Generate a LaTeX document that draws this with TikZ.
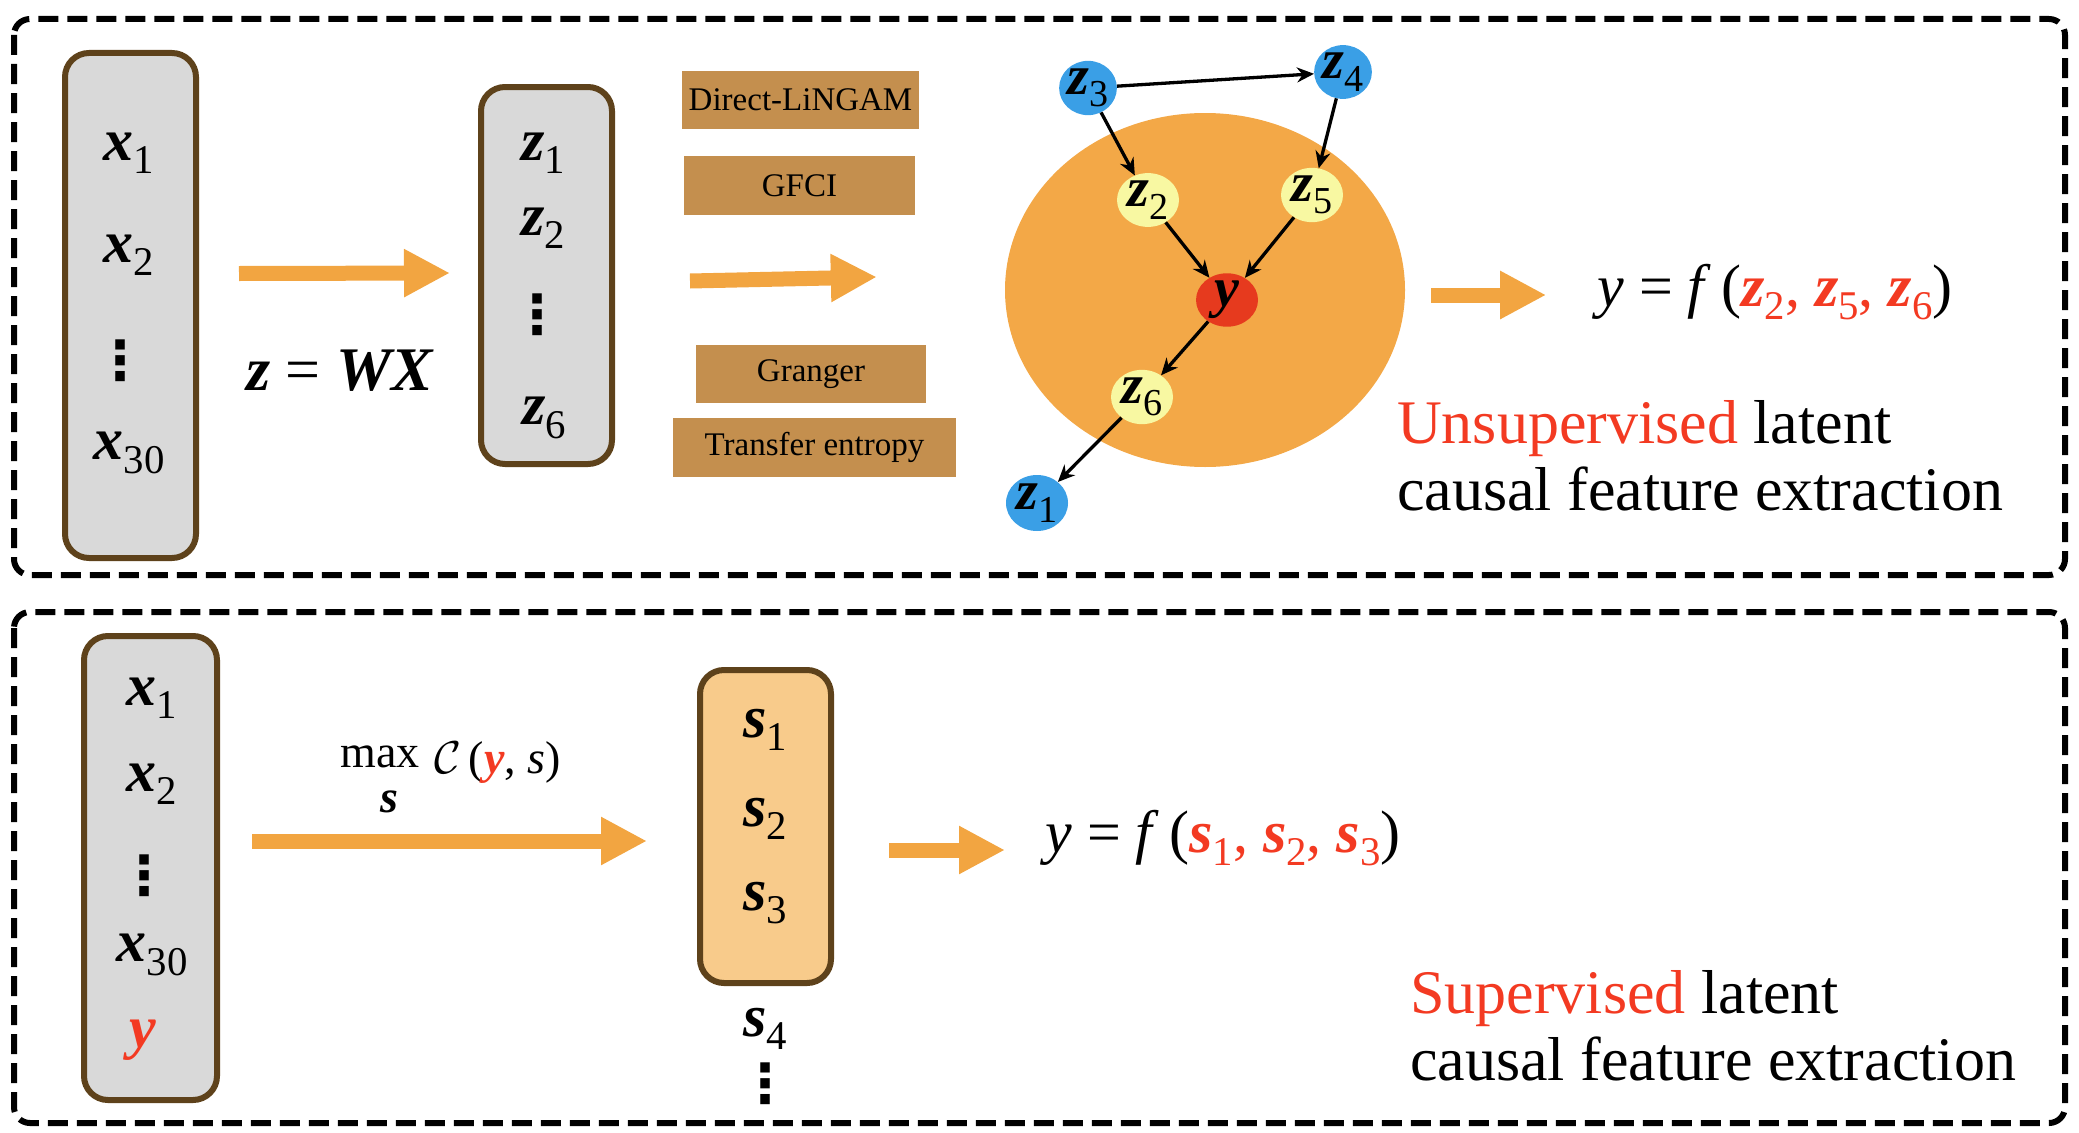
\RequirePackage{fix-cm}
\documentclass[tikz,border=0pt]{standalone}
\usepackage{fontspec}
\setmainfont{Liberation Serif}[ItalicFont={Liberation Serif Italic},BoldFont={Liberation Serif Bold},BoldItalicFont={Liberation Serif Bold Italic}]
\newfontfamily\djv{DejaVu Sans}
\usepackage{graphicx}
\usetikzlibrary{arrows.meta,shapes.geometric}
\definecolor{boxgray}{HTML}{D9D9D9}
\definecolor{boxbrown}{HTML}{5E421B}
\definecolor{sfill}{HTML}{F8CB8B}
\definecolor{tanbox}{HTML}{C48F4E}
\definecolor{arrowor}{HTML}{F2A541}
\definecolor{ellor}{HTML}{F3A847}
\definecolor{bluen}{HTML}{3A9FE6}
\definecolor{yelln}{HTML}{F8F8A2}
\definecolor{redn}{HTML}{E63A1E}
\definecolor{tred}{HTML}{F33A22}
\newcommand\bi[1]{\textbf{\textit{#1}}}
\newcommand\sbs[1]{\raisebox{-0.22em}{\scalebox{0.68}{#1}}}
\tikzset{
  dframe/.style={draw=black,line width=6pt,dash pattern=on 20pt off 9pt,rounded corners=16pt},
  vecbox/.style={draw=boxbrown,line width=6pt,rounded corners=24pt,fill=boxgray,inner sep=0pt},
  sbox/.style={vecbox,fill=sfill},
  method/.style={fill=tanbox,inner sep=0pt,font=\fontsize{33}{36}\selectfont},
  lab/.style={inner sep=0pt,font=\fontsize{60}{66}\selectfont},
  dts/.style={inner sep=0pt,font=\djv\bfseries\fontsize{54}{60}\selectfont},
  gnode/.style={ellipse,inner sep=0pt,minimum width=62pt,minimum height=52pt,font=\fontsize{56}{60}\selectfont},
  bnode/.style={gnode,fill=bluen,minimum width=56pt},
  ynode/.style={gnode,fill=yelln},
  rnode/.style={gnode,fill=redn},
  fat/.style={draw=arrowor,line width=15pt,-{Triangle[width=45pt 0 0,length=46pt 0 0]}},
  garrow/.style={draw=black,line width=3.3pt,-{Stealth[length=17pt 0 0,width=15pt 0 0]}},
  bigtxt/.style={inner sep=0pt,align=left,font=\fontsize{62}{67}\selectfont},
  formula/.style={inner sep=0pt,font=\fontsize{60}{66}\selectfont}
}
\begin{document}
\begin{tikzpicture}[x=1pt,y=-1pt]
\useasboundingbox (0,0) rectangle (2079,1132);
% frames
\draw[dframe] (14,19) rectangle (2065,575);
\draw[dframe] (14,612) rectangle (2065,1123);

% ---------- top panel ----------
\node[vecbox,minimum width=131pt,minimum height=505pt] (xbox) at (130.5,305.5) {};
\node[lab] (x1) at (129,153) {\bi{x}\sbs{1}};
\node[lab] (x2) at (129,255) {\bi{x}\sbs{2}};
\node[dts] (xd) at (120,361) {⋮};
\node[lab] (x30) at (129,453) {\bi{x}\sbs{30}};

\node[vecbox,minimum width=131pt,minimum height=377pt] (zbox) at (546.5,275.5) {};
\node[lab] (zl1) at (543,153) {\bi{z}\sbs{1}};
\node[lab] (zl2) at (543,228) {\bi{z}\sbs{2}};
\node[dts] (zd) at (537,315) {⋮};
\node[lab] (zl6) at (544,418) {\bi{z}\sbs{6}};

\node[inner sep=0pt,font=\fontsize{62}{66}\selectfont] (zeq) at (340,371) {\bi{z} = \bi{WX}};
\draw[fat] ([shift={(40,-32)}]xbox.east) -- ([shift={(-28,-2.5)}]zbox.west);

\node[method,minimum width=237pt,minimum height=58pt] (dl) at (800.5,100) {Direct-LiNGAM};
\node[method,minimum width=231pt,minimum height=59pt] (gf) at (799.5,185.5) {GFCI};
\node[method,minimum width=230pt,minimum height=58pt] (gr) at (811,374) {Granger};
\node[method,minimum width=283pt,minimum height=59pt] (te) at (814.5,447.5) {Transfer entropy};

\node[ellipse,fill=ellor,inner sep=0pt,minimum width=400pt,minimum height=354pt] (cloud) at (1205,290) {};
\draw[fat] ([shift={(75,5.5)}]zbox.east) -- ([shift={(-128,-13)}]cloud.west);

\node[bnode] (z3) at (1088,88) {\bi{z}\sbs{3}};
\node[bnode] (z4) at (1343,72) {\bi{z}\sbs{4}};
\node[ynode] (z2) at (1148,200) {\bi{z}\sbs{2}};
\node[ynode] (z5) at (1312,195) {\bi{z}\sbs{5}};
\node[rnode] (y) at (1227,300) {\bi{y}};
\node[ynode] (z6) at (1142,397) {\bi{z}\sbs{6}};
\node[bnode,minimum width=62pt,minimum height=56pt] (z1) at (1037,503) {\bi{z}\sbs{1}};
\draw[garrow] (z3) -- (z4);
\draw[garrow] (z3) -- (z2);
\draw[garrow] (z4) -- (z5);
\draw[garrow] (z2) -- (y);
\draw[garrow] (z5) -- (y);
\draw[garrow] (y) -- (z6);
\draw[garrow] (z6) -- (z1);

\draw[fat] ([shift={(26,5)}]cloud.east) -- ++(115,0);
\node[formula] (f1) at (1775,292) {\textit{y} = \textit{f}\,(\textcolor{tred}{\bi{z}\sbs{2}, \bi{z}\sbs{5}, \bi{z}\sbs{6}})};
\node[bigtxt,anchor=west] (t1) at (1397,456) {\textcolor{tred}{Unsupervised} latent\\causal feature extraction};

% ---------- bottom panel ----------
\node[vecbox,minimum width=133pt,minimum height=464pt] (xbox2) at (150.5,868) {};
\node[lab] (b1) at (152,698) {\bi{x}\sbs{1}};
\node[lab] (b2) at (152,784) {\bi{x}\sbs{2}};
\node[dts] (bd) at (144,876) {⋮};
\node[lab] (b30) at (152,955) {\bi{x}\sbs{30}};
\node[lab] (by) at (143,1040) {\textcolor{tred}{\bi{y}}};

\node[sbox,minimum width=131pt,minimum height=313pt] (sb) at (765.5,826.5) {};
\node[lab] (s1) at (765,730) {\bi{s}\sbs{1}};
\node[lab] (s2) at (765,819) {\bi{s}\sbs{2}};
\node[lab] (s3) at (765,903) {\bi{s}\sbs{3}};
\node[lab] (s4) at (765,1029) {\bi{s}\sbs{4}};
\node[dts] (sd) at (765,1084) {⋮};

\node[inner sep=0pt,font=\fontsize{46}{50}\selectfont] (mx) at (380,757) {max};
\node[inner sep=0pt,font=\fontsize{46}{50}\selectfont] (mxs) at (389,802) {\bi{s}};
\node[inner sep=0pt,anchor=west,font=\fontsize{46}{50}\selectfont] (mxc) at (434,762) {$\mathcal{C}$\,(\textcolor{tred}{\bi{y}}, \textit{s})};
\draw[fat] ([shift={(32,-27)}]xbox2.east) -- ([shift={(-50,14.5)}]sb.west);
\draw[fat] ([shift={(55,23.5)}]sb.east) -- ++(116,0);
\node[formula] (f2) at (1223,838) {\textit{y} = \textit{f}\,(\textcolor{tred}{\bi{s}\sbs{1}, \bi{s}\sbs{2}, \bi{s}\sbs{3}})};
\node[bigtxt,anchor=west] (t2) at (1410,1026) {\textcolor{tred}{Supervised} latent\\causal feature extraction};
\end{tikzpicture}
\end{document}
